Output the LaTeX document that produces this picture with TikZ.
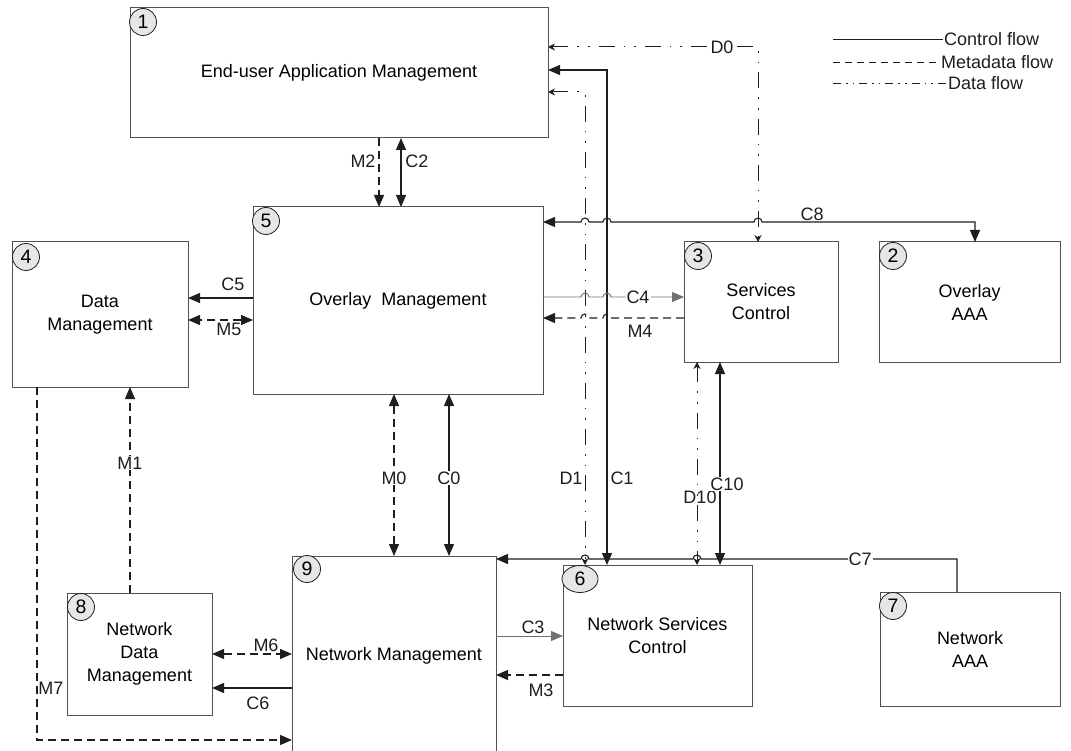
\documentclass[tikz,border=0pt]{standalone}
\usepackage{fontspec}
\setmainfont{Liberation Sans}
\usetikzlibrary{arrows.meta,shapes.geometric}
\definecolor{boxc}{HTML}{505050}
\definecolor{linec}{HTML}{1E1E1E}
\definecolor{lightl}{HTML}{707070}
\definecolor{numfill}{HTML}{E6E6E6}
\newcommand\lbl{\fontsize{18}{23}\selectfont}
\newcommand\numfont{\fontsize{19.5}{23}\selectfont}
\tikzset{
 box/.style={draw=boxc, line width=1pt, anchor=north west, align=center, inner sep=0pt, outer sep=0pt, font=\lbl},
 num/.style={circle, draw=linec, fill=numfill, line width=0.8pt, minimum size=27pt, inner sep=0pt, font=\numfont},
 ctrl/.style={draw=linec, line width=1.1pt, >={Triangle[length=12pt,width=10pt]}},
 meta/.style={draw=linec, line width=1.1pt, dash pattern=on 8pt off 5pt, >={Triangle[length=12pt,width=10pt]}},
 dataf/.style={draw=linec, line width=1pt, dash pattern=on 16pt off 9pt on 1.6pt off 9pt on 1.6pt off 9pt, >={Stealth[length=7pt,width=7pt]}},
 lab/.style={font=\lbl, inner sep=1pt, text=linec},
 wlab/.style={lab, fill=white},
}
\begin{document}
\begin{tikzpicture}[x=1pt,y=-1pt]
\useasboundingbox (0,0) rectangle (1071,751);
% boxes
\node[box, minimum width=418pt, minimum height=130pt] (b1) at (130,8) {End-user Application Management};
\node[box, minimum width=290pt, minimum height=187pt] (b5) at (253,207) {Overlay\ \ Management};
\node[box, minimum width=176pt, minimum height=145pt] (b4) at (12,242) {Data\\Management};
\node[box, minimum width=154pt, minimum height=120pt] (b3) at (684,242) {Services\\Control};
\node[box, minimum width=181pt, minimum height=120pt] (b2) at (879,242) {Overlay\\AAA};
\node[box, draw=none, minimum width=204pt, minimum height=200pt] (b9) at (292,556) {Network Management};
\draw[boxc, line width=1pt] (b9.south west) -- (b9.north west) -- (b9.north east) -- (b9.south east);
\node[box, minimum width=189pt, minimum height=141pt] (b6) at (563,565) {Network Services\\Control};
\node[box, minimum width=180pt, minimum height=114pt] (b7) at (880,592) {Network\\AAA};
\node[box, minimum width=145pt, minimum height=122pt] (b8) at (67,593) {Network\\Data\\Management};
% numbers
\node[num] (n1) at (143,22) {1};
\node[num] (n2) at (893,256) {2};
\node[num] (n3) at (698,256) {3};
\node[num] (n4) at (26,257) {4};
\node[num] (n5) at (266,221) {5};
\node[num, ellipse, minimum width=36pt, minimum height=27pt] (n6) at (580,579) {6};
\node[num] (n7) at (893,606) {7};
\node[num] (n8) at (81,607) {8};
\node[num] (n9) at (307,569) {9};
% top connectors
\draw[dataf,<->] (b1.east |- 0,47) -- (758,47) -- (758,0 |- b3.north);
\node[wlab] (lD0) at (722,47) {D0};
\draw[ctrl,<->] (b1.east |- 0,70) -- (607,70) -- (607,0 |- b6.north);
\draw[dataf,<->] (b1.east |- 0,92) -- (585,92) -- (585,0 |- b6.north);
\draw[meta,->] (379,0 |- b1.south) -- (379,0 |- b5.north);
\draw[ctrl,<->] (401,0 |- b1.south) -- (401,0 |- b5.north);
\node[lab] (lM2) at (363,161) {M2};
\node[lab] (lC2) at (417,161) {C2};
% C8 with hops
\draw[ctrl,<->] (b5.east |- 0,222) -- (581,222) arc[start angle=180,end angle=0,radius=4pt] -- (603,222) arc[start angle=180,end angle=0,radius=4pt] -- (754,222) arc[start angle=180,end angle=0,radius=4pt] -- (975,222) -- (975,0 |- b2.north);
\node[wlab] (lC8) at (812,214) {C8};
% C4, M4
\draw[draw=lightl, line width=0.9pt, >={Triangle[length=12pt,width=10pt]}, ->] (b5.east |- 0,297) -- (581,297) arc[start angle=180,end angle=0,radius=4pt] -- (603,297) arc[start angle=180,end angle=0,radius=4pt] -- (b3.west |- 0,297);
\node[wlab] (lC4) at (638,297) {C4};
\draw[meta,->] (b3.west |- 0,318) -- (611,318) arc[start angle=0,end angle=180,radius=4pt] -- (589,318) arc[start angle=0,end angle=180,radius=4pt] -- (b5.east |- 0,318);
\node[lab] (lM4) at (640,331) {M4};
% C5, M5
\draw[ctrl,->] (b5.west |- 0,298) -- (b4.east |- 0,298);
\draw[meta,<->] (b5.west |- 0,320) -- (b4.east |- 0,320);
\node[lab] (lC5) at (233,284) {C5};
\node[lab] (lM5) at (229,329) {M5};
% M0, C0
\draw[meta,<->] (394,0 |- b5.south) -- (394,0 |- b9.north);
\draw[ctrl,<->] (449,0 |- b5.south) -- (449,0 |- b9.north);
\node[wlab] (lM0) at (394,478) {M0};
\node[wlab] (lC0) at (449,478) {C0};
\node[lab] (lD1) at (571,478) {D1};
\node[lab] (lC1) at (622,478) {C1};
% D10, C10
\draw[dataf,<->] (697,0 |- b3.south) -- (697,0 |- b6.north);
\draw[ctrl,<->] (720,0 |- b3.south) -- (720,0 |- b6.north);
\node[lab] (lD10) at (700,497) {D10};
\node[wlab] (lC10) at (727,484) {C10};
% C7
\draw[ctrl,->] (957,0 |- b7.north) -- (957,559) -- (701,559) arc[start angle=0,end angle=180,radius=4pt] -- (589,559) arc[start angle=0,end angle=180,radius=4pt] -- (b9.east |- 0,559);
\node[wlab] (lC7) at (860,559) {C7};
% M1, M7
\draw[meta,->] (130,0 |- b8.north) -- (130,0 |- b4.south);
\node[wlab] (lM1) at (130,463) {M1};
\draw[meta,->] (37,0 |- b4.south) -- (37,740) -- (b9.west |- 0,740);
\node[lab] (lM7) at (51,688) {M7};
% M6, C6
\draw[meta,<->] (b8.east |- 0,654) -- (b9.west |- 0,654);
\node[lab] (lM6) at (266,645) {M6};
\draw[ctrl,->] (b9.west |- 0,688) -- (b8.east |- 0,688);
\node[lab] (lC6) at (258,703) {C6};
% C3, M3
\draw[draw=lightl, line width=0.9pt, >={Triangle[length=12pt,width=10pt]}, ->] (b9.east |- 0,636) -- (b6.west |- 0,636);
\node[lab] (lC3) at (533,627) {C3};
\draw[meta,->] (b6.west |- 0,675) -- (b9.east |- 0,675);
\node[lab] (lM3) at (541,690) {M3};
% legend
\node[lab, anchor=west] (lg1) at (943,39) {Control flow};
\node[lab, anchor=west] (lg2) at (940,62) {Metadata flow};
\node[lab, anchor=west] (lg3) at (947,83) {Data flow};
\coordinate (lg1s) at (833,39);
\coordinate (lg2s) at (833,62);
\coordinate (lg3s) at (833,83);
\draw[ctrl, line width=0.9pt] (lg1s) -- (lg1.west);
\draw[meta, line width=0.9pt, dash pattern=on 7pt off 5pt] (lg2s) -- (lg2.west);
\draw[dataf, line width=0.9pt, dash pattern=on 8pt off 5pt on 1.6pt off 5pt on 1.6pt off 5pt] (lg3s) -- (lg3.west);
\end{tikzpicture}
\end{document}
